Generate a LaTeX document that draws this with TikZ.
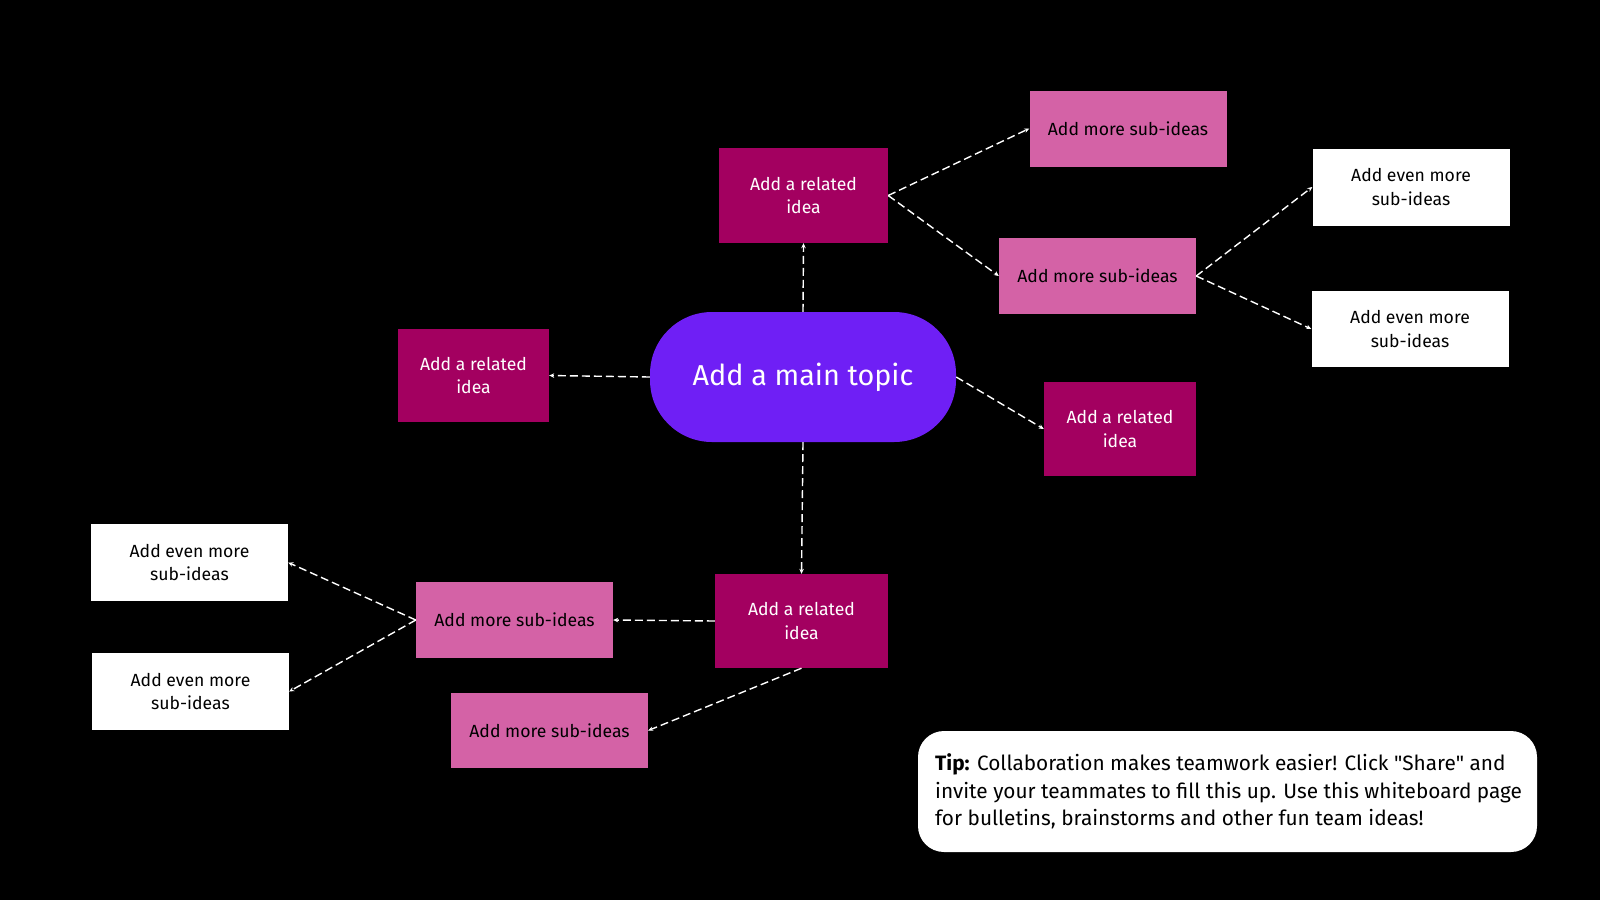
\documentclass[tikz,border=0pt]{standalone}
\usepackage{fontspec}
\setmainfont{Fira Sans}[Ligatures=TeXOff]
\usetikzlibrary{arrows.meta}
\definecolor{mainviolet}{HTML}{6F1FF5}
\definecolor{relmag}{HTML}{A30060}
\definecolor{subpink}{HTML}{D462A6}
\tikzset{
  base/.style={inner sep=0pt, align=center, font=\fontsize{17.6}{23.5}\selectfont},
  related/.style={base, fill=relmag, text=white, minimum width=#1},
  subidea/.style={base, fill=subpink, text=black, minimum width=197pt, minimum height=76pt},
  evenmore/.style={base, fill=white, text=black, minimum width=197pt, minimum height=77pt},
  link/.style={draw=white, line width=1.4pt, dash pattern=on 8pt off 4pt, -{Stealth[length=5pt,width=4.5pt]}}
}
\begin{document}
\begin{tikzpicture}[x=1pt,y=-1pt]
\fill[black] (0,0) rectangle (1600,900);
\useasboundingbox (0,0) rectangle (1600,900);

\node[base, fill=mainviolet, text=white, rounded corners=62pt, minimum width=306pt, minimum height=130pt, font=\fontsize{28.8}{34}\selectfont] (main) at (803,377) {Add a main topic};

\node[related=169pt, minimum height=95pt] (rtop) at (803.5,195.5) {Add a related\\idea};
\node[related=151pt, minimum height=93pt] (rleft) at (473.5,375.5) {Add a related\\idea};
\node[related=152pt, minimum height=94pt] (rright) at (1120,429) {Add a related\\idea};
\node[related=173pt, minimum height=94pt] (rbot) at (801.5,621) {Add a related\\idea};

\node[subidea] (s1) at (1128,128.5) {Add more sub-ideas};
\node[subidea] (s2) at (1097.5,276) {Add more sub-ideas};
\node[subidea] (s3) at (514.5,620) {Add more sub-ideas};
\node[subidea, minimum height=75pt] (s4) at (549.5,730.5) {Add more sub-ideas};

\node[evenmore] (e1) at (1411,187) {Add even more\\sub-ideas};
\node[evenmore, minimum height=76pt] (e2) at (1410,329) {Add even more\\sub-ideas};
\node[evenmore] (e3) at (189.5,562.5) {Add even more\\sub-ideas};
\node[evenmore] (e4) at (190.5,691.5) {Add even more\\sub-ideas};

\node[fill=white, rounded corners=26pt, minimum width=619pt, minimum height=121pt, inner sep=0pt] (tip) at (1227.5,791.5) {};
\node[anchor=west, align=left, inner sep=0pt, text=black, font=\fontsize{20.8}{27.5}\selectfont] (tiptext) at (935,791.5) {\textbf{Tip:} Collaboration makes teamwork easier! Click "Share" and\\invite your teammates to fill this up. Use this whiteboard page\\for bulletins, brainstorms and other fun team ideas!};

\draw[link] (main.north) -- (rtop.south);
\draw[link] (main.west) -- (rleft.east);
\draw[link] (main.east) -- (rright.west);
\draw[link] (main.south) -- (rbot.north);
\draw[link] (rtop.east) -- (s1.west);
\draw[link] (rtop.east) -- (s2.west);
\draw[link] (s2.east) -- (e1.west);
\draw[link] (s2.east) -- (e2.west);
\draw[link] (rbot.west) -- (s3.east);
\draw[link] (rbot.south) -- (s4.east);
\draw[link] (s3.west) -- (e3.east);
\draw[link] (s3.west) -- (e4.east);
\end{tikzpicture}
\end{document}
